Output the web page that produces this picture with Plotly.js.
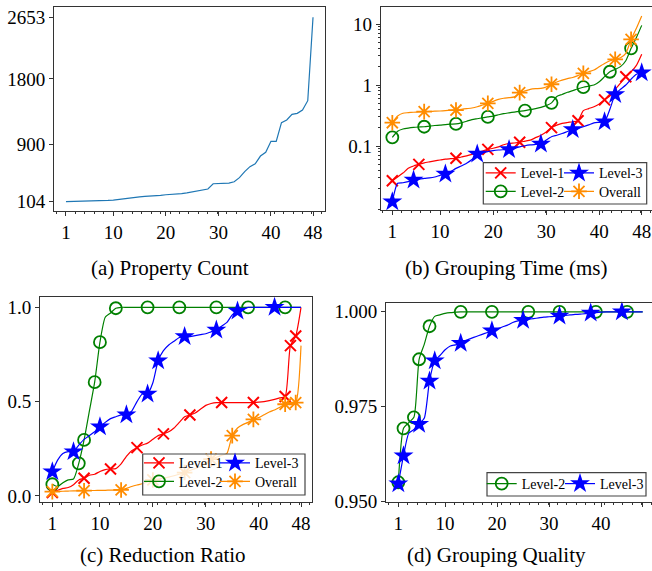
<!DOCTYPE html>
<html>
<head>
<meta charset="utf-8">
<script src="https://cdn.plot.ly/plotly-3.0.1.min.js"></script>
<style>html,body{margin:0;padding:0;background:#fff;}#chart{width:652px;height:571px;}</style>
</head>
<body>
<div id="chart"></div>
<script>
// ---------- data ----------
const idx = Array.from({length: 48}, (_, i) => i + 1);
const xTicks = [1, 10, 20, 30, 40, 48];

// (a) Property Count
const propCount = [104,105,106,108,110,112,115,118,121,125,132,140,148,160,170,178,180,182,192,200,202,205,215,225,238,252,272,280,352,358,360,362,380,436,519,588,629,735,786,938,938,1196,1233,1311,1325,1371,1500,2653];
const propTicks = [104, 900, 1800, 2653];

// (b) Grouping Time (ms)
const timeL1 = [0.027,0.031,0.036,0.043,0.047,0.050,0.053,0.055,0.057,0.059,0.061,0.062,0.063,0.066,0.069,0.073,0.078,0.083,0.088,0.092,0.097,0.105,0.110,0.112,0.115,0.120,0.125,0.137,0.15,0.17,0.20,0.22,0.235,0.243,0.25,0.26,0.38,0.41,0.44,0.49,0.57,0.66,0.85,1.07,1.37,1.65,2.1,3.2];
const timeL2 = [0.139,0.175,0.19,0.197,0.202,0.205,0.207,0.212,0.217,0.22,0.225,0.228,0.23,0.24,0.255,0.27,0.28,0.29,0.30,0.31,0.325,0.34,0.35,0.36,0.37,0.38,0.395,0.41,0.43,0.46,0.51,0.65,0.70,0.76,0.81,0.87,0.92,0.96,1.0,1.13,1.37,1.65,1.8,2.0,2.5,3.99,6.0,9.5];
const timeL3 = [0.0122,0.0245,0.025,0.026,0.0277,0.0285,0.0295,0.030,0.031,0.033,0.0347,0.038,0.043,0.047,0.052,0.060,0.074,0.078,0.081,0.084,0.086,0.087,0.088,0.092,0.097,0.101,0.104,0.106,0.108,0.125,0.142,0.15,0.16,0.173,0.187,0.195,0.207,0.222,0.24,0.245,0.25,0.40,0.70,0.85,1.0,1.25,1.5,1.59];
const timeAll = [0.241,0.31,0.344,0.352,0.358,0.362,0.366,0.37,0.372,0.375,0.38,0.385,0.389,0.40,0.41,0.42,0.44,0.47,0.50,0.54,0.58,0.606,0.62,0.64,0.75,0.80,0.85,0.87,0.88,0.93,1.03,1.12,1.2,1.27,1.33,1.43,1.55,1.65,1.76,2.0,2.26,2.5,2.64,2.8,3.3,5.6,8.5,13.5];
const timeMarksL1 = [1,6,13,19,25,31,36,41,45];
const timeMarksL2 = [1,7,13,19,26,31,37,42,46];
const timeMarksL3 = [1,5,11,17,23,29,35,41,43,48];
const timeMarksAll = [1,7,13,19,25,31,37,43,46];
const timeTicks = [0.1, 1, 10];
const timeTickText = ['0.1', '1', '10'];

// (c) Reduction Ratio
const redL1 = [0.018,0.03,0.04,0.045,0.06,0.085,0.094,0.11,0.115,0.13,0.14,0.143,0.145,0.17,0.21,0.24,0.256,0.27,0.28,0.30,0.32,0.329,0.34,0.36,0.39,0.42,0.429,0.44,0.46,0.48,0.49,0.495,0.495,0.495,0.495,0.495,0.495,0.495,0.495,0.497,0.5,0.505,0.512,0.52,0.527,0.797,0.848,1.0];
const redL2 = [0.062,0.05,0.07,0.085,0.09,0.173,0.297,0.45,0.603,0.815,0.947,0.97,0.995,1,1,1,1,1,1,1,1,1,1,1,1,1,1,1,1,1,1,1,1,1,1,1,1,1,1,1,1,1,1,1,1,1,1,1];
const redL3 = [0.129,0.19,0.225,0.235,0.235,0.27,0.30,0.32,0.34,0.367,0.39,0.41,0.42,0.43,0.43,0.45,0.5,0.54,0.541,0.6,0.717,0.77,0.8,0.82,0.84,0.845,0.845,0.85,0.855,0.86,0.87,0.88,0.9,0.92,0.96,0.98,0.99,1,1,1,1,1,1,1,1,1,1,1];
const redAll = [0.023,0.024,0.025,0.026,0.027,0.027,0.028,0.029,0.029,0.03,0.03,0.031,0.031,0.032,0.04,0.05,0.058,0.065,0.075,0.085,0.09,0.095,0.1,0.107,0.115,0.124,0.135,0.145,0.156,0.175,0.195,0.205,0.215,0.226,0.32,0.36,0.378,0.39,0.406,0.415,0.43,0.445,0.456,0.47,0.486,0.49,0.495,0.797];
const redMarksL1 = [1,7,12,17,22,27,33,39,45,46,47];
const redMarksL2 = [1,6,7,9,10,13,19,25,32,38,45];
const redMarksL3 = [1,5,10,15,19,21,26,32,36,43];
const redMarksAll = [1,7,14,20,26,31,35,39,45,47];
const redTicks = [0, 0.5, 1.0];

// (d) Grouping Quality
const qualL2 = [0.9551,0.9693,0.9708,0.9722,0.9875,0.9915,0.9962,0.9988,0.9992,0.9996,0.9998,0.9999,1,1,1,1,1,1,1,1,1,1,1,1,1,1,1,1,1,1,1,1,1,1,1,1,1,1,1,1,1,1,1,1,1,1,1,1];
const qualL3 = [0.9547,0.9621,0.968,0.969,0.9704,0.972,0.9818,0.9871,0.9885,0.99,0.991,0.9913,0.9917,0.9925,0.993,0.9935,0.994,0.9945,0.995,0.9955,0.996,0.9965,0.9972,0.9976,0.9978,0.998,0.9982,0.9984,0.9986,0.9987,0.9988,0.9989,0.999,0.9992,0.9993,0.9994,0.9995,0.9997,0.9998,0.9999,1,1,1,1,1,1,1,1];
const qualMarksL2 = [1,2,4,5,7,13,19,26,32,39,45];
const qualMarksL3 = [1,2,5,7,8,13,19,25,32,38,44];
const qualTicks = [0.95, 0.975, 1.0];

const captions = ['(a) Property Count', '(b) Grouping Time (ms)', '(c) Reduction Ratio', '(d) Grouping Quality'];

// ---------- styling helpers ----------
const W = 652, H = 571;
const px = x => x / W;
const py = y => 1 - y / H;
const FONT = 'Liberation Serif, Times New Roman, serif';
const RED = '#ff0000', GREEN = '#008000', BLUE = '#0000ff', ORANGE = '#ff8c00';

function sizes(marks, s) { return idx.map(x => marks.includes(x) ? s : 0); }

const styles = {
  L1: {name: 'Level-1', color: RED, symbol: 'x-thin-open', size: 11, lw: 2},
  L2: {name: 'Level-2', color: GREEN, symbol: 'circle-open', size: 12, lw: 1.8},
  L3: {name: 'Level-3', color: BLUE, symbol: 'star', size: 15, lw: 0},
  All: {name: 'Overall', color: ORANGE, symbol: 'asterisk-open', size: 13, lw: 1.8}
};

function series(y, marks, key, xa, ya) {
  const s = styles[key];
  return {
    x: idx, y: y, name: s.name, type: 'scatter', mode: 'lines+markers',
    xaxis: xa, yaxis: ya, showlegend: false, cliponaxis: false,
    line: {color: s.color, width: 1.2, shape: 'spline', smoothing: 0.6},
    marker: {symbol: s.symbol, size: sizes(marks, s.size), color: s.color, opacity: 1,
             line: {color: s.color, width: s.lw}}
  };
}
// legend-only entry (no data marks)
function key(keyName, xa, ya, legend) {
  const s = styles[keyName];
  return {
    x: [null], y: [null], name: s.name, type: 'scatter', mode: 'lines+markers',
    xaxis: xa, yaxis: ya, showlegend: true, legend: legend,
    line: {color: s.color, width: 1.2},
    marker: {symbol: s.symbol, size: s.size, color: s.color, opacity: 1,
             line: {color: s.color, width: s.lw}}
  };
}

const data = [
  {x: idx, y: propCount, type: 'scatter', mode: 'lines', xaxis: 'x', yaxis: 'y',
   showlegend: false, line: {color: '#1f77b4', width: 1.2}},
  series(timeL1, timeMarksL1, 'L1', 'x2', 'y2'),
  series(timeL2, timeMarksL2, 'L2', 'x2', 'y2'),
  series(timeL3, timeMarksL3, 'L3', 'x2', 'y2'),
  series(timeAll, timeMarksAll, 'All', 'x2', 'y2'),
  series(redL1, redMarksL1, 'L1', 'x3', 'y3'),
  series(redL2, redMarksL2, 'L2', 'x3', 'y3'),
  series(redL3, redMarksL3, 'L3', 'x3', 'y3'),
  series(redAll, redMarksAll, 'All', 'x3', 'y3'),
  series(qualL2, qualMarksL2, 'L2', 'x4', 'y4'),
  series(qualL3, qualMarksL3, 'L3', 'x4', 'y4'),
  key('L1', 'x2', 'y2', 'legend'),
  key('L3', 'x2', 'y2', 'legend2'),
  key('L2', 'x2', 'y2', 'legend3'),
  key('All', 'x2', 'y2', 'legend4'),
  key('L1', 'x3', 'y3', 'legend5'),
  key('L3', 'x3', 'y3', 'legend6'),
  key('L2', 'x3', 'y3', 'legend7'),
  key('All', 'x3', 'y3', 'legend8'),
  key('L2', 'x4', 'y4', 'legend9'),
  key('L3', 'x4', 'y4', 'legend10')
];

const AX = {
  showgrid: false, zeroline: false, showline: true, linecolor: '#333', linewidth: 1,
  mirror: true, ticks: 'outside', ticklen: 4, tickwidth: 1, tickcolor: '#333',
  tickfont: {family: FONT, size: 19, color: '#000'}
};
const XMINOR = {ticks: 'outside', ticklen: 2, tickwidth: 1, tickcolor: '#333', tick0: 1, dtick: 1.8};
function xAxis(dom, range, anchor) {
  return Object.assign({}, AX, {domain: dom, range: range, anchor: anchor,
    tickmode: 'array', tickvals: xTicks, ticktext: xTicks.map(String), minor: XMINOR});
}

const logMinor = [];
for (let d = -3; d <= 1; d++) for (let m = 2; m <= 9; m++) logMinor.push(m * Math.pow(10, d));

// single-entry legend: text starting at textX, centred at rowY (pixels)
function legendAt(textX, rowY) {
  return {x: px(textX - 40), y: py(rowY), xanchor: 'left', yanchor: 'middle', bgcolor: 'rgba(0,0,0,0)',
          borderwidth: 0, itemsizing: 'trace', itemwidth: 30, tracegroupgap: 0,
          font: {family: FONT, size: 14, color: '#000'}};
}
function frame(x0, y0, x1, y1) {
  return {type: 'rect', xref: 'paper', yref: 'paper', layer: 'above',
          x0: px(x0), x1: px(x1), y0: py(y1), y1: py(y0),
          line: {color: '#444', width: 1.2}, fillcolor: 'rgba(255,255,255,0.8)'};
}
function caption(text, x, y) {
  return {text: text, xref: 'paper', yref: 'paper', x: px(x), y: py(y), showarrow: false,
          xanchor: 'center', yanchor: 'middle', font: {family: FONT, size: 21, color: '#000'}};
}

const layout = {
  width: W, height: H, margin: {l: 0, r: 0, t: 0, b: 0},
  paper_bgcolor: '#fff', plot_bgcolor: '#fff', showlegend: true,
  xaxis: xAxis([px(54), px(325)], [-1.28, 50.28], 'y'),
  yaxis: Object.assign({}, AX, {domain: [py(211), py(7)], range: [-24.5, 2795], anchor: 'x',
    tickmode: 'array', tickvals: propTicks, ticktext: propTicks.map(String)}),
  xaxis2: xAxis([px(380.7), 1], [-1.19, 49.94], 'y2'),
  yaxis2: Object.assign({}, AX, {domain: [py(210), py(7)], type: 'log', range: [-2.049, 1.279], anchor: 'x2',
    tickmode: 'array', tickvals: timeTicks, ticktext: timeTickText,
    minor: {ticks: 'outside', ticklen: 2, tickwidth: 1, tickcolor: '#333', tickmode: 'array', tickvals: logMinor}}),
  xaxis3: xAxis([px(40), px(311.7)], [-1.33, 50.02], 'y3'),
  yaxis3: Object.assign({}, AX, {domain: [py(502), py(297.3)], range: [-0.032, 1.053], anchor: 'x3',
    tickmode: 'array', tickvals: redTicks, ticktext: redTicks.map(v => v.toFixed(1))}),
  xaxis4: xAxis([px(386), 1], [-1.37, 49.79], 'y4'),
  yaxis4: Object.assign({}, AX, {domain: [py(502), py(302.7)], range: [0.9499, 1.0024], anchor: 'x4',
    tickmode: 'array', tickvals: qualTicks, ticktext: qualTicks.map(v => v.toFixed(3))}),
  legend: legendAt(520.7, 173.3),
  legend2: legendAt(599, 173.3),
  legend3: legendAt(520.7, 191.7),
  legend4: legendAt(599, 191.7),
  legend5: legendAt(179, 463.3),
  legend6: legendAt(255, 463.3),
  legend7: legendAt(179, 481.7),
  legend8: legendAt(255, 481.7),
  legend9: legendAt(521.7, 484),
  legend10: legendAt(600, 484),
  shapes: [frame(483.3, 162.7, 646.7, 204), frame(142.7, 454, 305, 495), frame(487, 472.7, 646, 496)],
  annotations: [caption(captions[0], 170, 268), caption(captions[1], 506, 268),
                caption(captions[2], 163, 555), caption(captions[3], 496, 555)]
};

Plotly.newPlot('chart', data, layout, {displayModeBar: false, staticPlot: true});
</script>
</body>
</html>
